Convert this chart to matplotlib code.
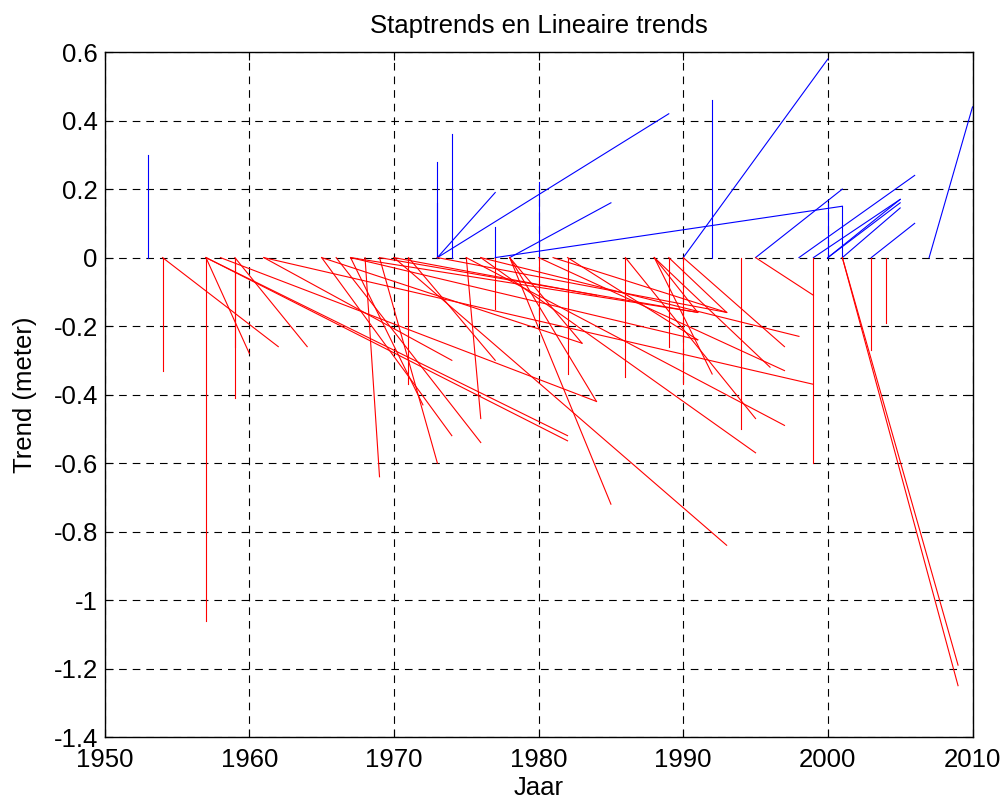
import matplotlib
matplotlib.use("Agg")
import matplotlib.pyplot as plt

# step / linear trends: each segment runs from (start, 0) to (end, value)
blue_start = [1953, 1973, 1973, 1974, 1973, 1973, 1977, 1977, 1978, 1980,
              1990, 1992, 1995, 1998, 1999, 2000, 2001, 2000, 2000, 2001,
              2003, 2007]
blue_end = [1953, 1973, 1973, 1974, 1977, 1989, 1977, 2001, 1985, 1980,
            2000, 1992, 2001, 2006, 2005, 2000, 2001, 2005, 2005, 2005,
            2006, 2010]
blue_value = [0.30, 0.28, 0.16, 0.36, 0.19, 0.42, 0.09, 0.15, 0.16, 0.22,
              0.58, 0.46, 0.20, 0.24, 0.17, 0.16, 0.15, 0.17, 0.16, 0.145,
              0.10, 0.44]

red_start = [1954, 1954, 1957, 1957, 1957, 1957, 1958, 1959, 1959, 1959,
             1961, 1961, 1965, 1966, 1967, 1967, 1968, 1969, 1969, 1970,
             1970, 1971, 1971, 1973, 1975, 1975, 1976, 1976, 1977, 1978,
             1978, 1978, 1980, 1980, 1981, 1982, 1982, 1986, 1986, 1988,
             1988, 1988, 1989, 1990, 1990, 1994, 1995, 1999, 2001, 2001,
             2003, 2004, 1965, 1967, 1989]
red_end = [1954, 1962, 1957, 1960, 1982, 1982, 1984, 1959, 1959, 1964,
           1999, 1974, 1974, 1976, 1972, 1991, 1969, 1973, 1991, 1993,
           1984, 1971, 1977, 1993, 1976, 1997, 1995, 1998, 1977, 1985,
           1983, 1984, 1980, 1997, 1993, 1982, 1991, 1986, 1995, 1991,
           1992, 1996, 1989, 1990, 1997, 1994, 1999, 1999, 2009, 2009,
           2003, 2004, 1983, 1991, 1993]
red_value = [-0.33, -0.26, -1.06, -0.28, -0.52, -0.535, -0.42, -0.26, -0.41, -0.26,
             -0.37, -0.30, -0.52, -0.54, -0.43, -0.16, -0.64, -0.60, -0.16, -0.84,
             -0.11, -0.37, -0.30, -0.16, -0.47, -0.49, -0.57, -0.23, -0.15, -0.72,
             -0.25, -0.42, -0.19, -0.33, -0.16, -0.34, -0.24, -0.35, -0.47, -0.16,
             -0.34, -0.32, -0.26, -0.37, -0.26, -0.50, -0.11, -0.60, -1.19, -1.25,
             -0.27, -0.19, -0.25, -0.24, -0.16]

plt.rcParams["font.family"] = ["Liberation Sans", "DejaVu Sans"]
plt.rcParams["font.size"] = 18.5
plt.rcParams["lines.scale_dashes"] = False

fig = plt.figure(figsize=(10.03, 8.02), dpi=100)
ax = fig.add_axes([0.1044, 0.081, 0.8652, 0.854])

for s, e, v in zip(blue_start, blue_end, blue_value):
    ax.plot([s, e], [0, v], color="blue", lw=0.8)
for s, e, v in zip(red_start, red_end, red_value):
    ax.plot([s, e], [0, v], color="red", lw=0.8)

ax.set_xlim(1950, 2010)
ax.set_ylim(-1.4, 0.6)
ax.set_xticks(range(1950, 2011, 10))
ax.set_yticks([round(-1.4 + 0.2 * i, 1) for i in range(11)])
ax.set_yticklabels(["0" if abs(t) < 1e-9 else f"{t:g}" for t in ax.get_yticks()])
ax.grid(True, color="black", linestyle=(0, (5.5, 4.3)), lw=0.8)
ax.tick_params(direction="in", length=6, width=0.8, top=True, right=True,
               labeltop=False, labelright=False)
ax.tick_params(axis="x", pad=8)
ax.tick_params(axis="y", pad=5)
for sp in ax.spines.values():
    sp.set_linewidth(1.0)

ax.set_title("Staptrends en Lineaire trends", fontsize=18.5, pad=14)
ax.set_xlabel("Jaar", fontsize=18.5, labelpad=3)
ax.set_ylabel("Trend (meter)", fontsize=18.5, labelpad=12)

fig.savefig("out.png", dpi=100)
